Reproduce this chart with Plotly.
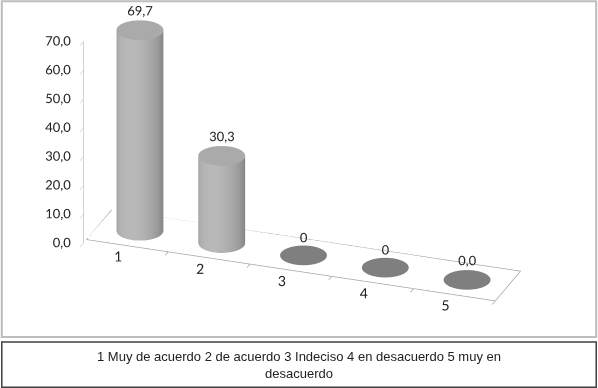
import numpy as np
import plotly.graph_objects as go

categories = [1, 2, 3, 4, 5]
values = [69.7, 30.3, 0.0, 0.0, 0.0]
value_labels = ["69,7", "30,3", "0", "0", "0,0"]
z_ticks = [0, 10, 20, 30, 40, 50, 60, 70]
z_tick_labels = ["0,0", "10,0", "20,0", "30,0", "40,0", "50,0", "60,0", "70,0"]
legend_text = "1 Muy de acuerdo 2 de acuerdo 3 Indeciso 4 en desacuerdo 5 muy en<br>desacuerdo"

X_RANGE = [0.5, 5.5]
Y_FLOOR = [0.0, 1.0]
Y_RANGE = [-0.12, 1.0]
Z_RANGE = [0, 70]

ASPECT = dict(x=2.6, y=0.45 * (Y_RANGE[1] - Y_RANGE[0]), z=1.33)
R_X = 0.27
R_Y = R_X * (ASPECT["x"] / 5.0) / (ASPECT["y"] / (Y_RANGE[1] - Y_RANGE[0]))
Y_MID = 0.5
theta0 = np.deg2rad(-95)
theta = np.linspace(0, 2 * np.pi, 72)
flat = dict(ambient=1, diffuse=0, specular=0, fresnel=0, roughness=1)
AXIS_COL = "#a6a6a6"
FONT = dict(family="Lato", size=13, color="#222222")

fig = go.Figure()

# floor outline (axis frame)
fig.add_trace(go.Scatter3d(
    x=[X_RANGE[0], X_RANGE[1], X_RANGE[1], X_RANGE[0], X_RANGE[0]],
    y=[Y_FLOOR[0], Y_FLOOR[0], Y_FLOOR[1], Y_FLOOR[1], Y_FLOOR[0]],
    z=[0] * 5, mode="lines", line=dict(color=AXIS_COL, width=1.5),
    hoverinfo="skip", showlegend=False))
# category boundary ticks
bounds = [c + 0.5 for c in categories]
tx, ty, tz = [], [], []
for b in bounds:
    tx += [b, b, None]
    ty += [Y_FLOOR[0], Y_RANGE[0], None]
    tz += [0, 0, None]
fig.add_trace(go.Scatter3d(x=tx, y=ty, z=tz, mode="lines",
                           line=dict(color=AXIS_COL, width=1.5),
                           hoverinfo="skip", showlegend=False))

for c, v in zip(categories, values):
    TH, ZZ = np.meshgrid(theta, np.array([0.0, v]))
    if v > 0:
        shade = np.clip(np.cos(TH - theta0), -1, 1)
        fig.add_trace(go.Surface(
            x=c + R_X * np.cos(TH), y=Y_MID + R_Y * np.sin(TH), z=ZZ,
            surfacecolor=shade, cmin=-1, cmax=1,
            colorscale=[[0, "#6f6f6f"], [0.5, "#8d8d8d"], [1, "#b8b8b8"]],
            showscale=False, lighting=flat, hoverinfo="skip"))
    TH2, RR = np.meshgrid(theta, np.array([0.0, 1.0]))
    cap_col = "#aaaaaa" if v > 0 else "#7f7f7f"
    fig.add_trace(go.Surface(
        x=c + R_X * RR * np.cos(TH2), y=Y_MID + R_Y * RR * np.sin(TH2),
        z=np.full_like(RR, v),
        surfacecolor=np.zeros_like(RR), cmin=0, cmax=1,
        colorscale=[[0, cap_col], [1, cap_col]],
        showscale=False, lighting=flat, hoverinfo="skip"))

# data labels
fig.add_trace(go.Scatter3d(
    x=categories, y=[Y_MID] * 5, z=values,
    mode="text", text=value_labels, textposition="top center",
    textfont=FONT, hoverinfo="skip", showlegend=False))

# value-axis tick labels aligned with the axis ticks
fig.add_trace(go.Scatter3d(
    x=[X_RANGE[0]] * len(z_ticks), y=[Y_RANGE[0]] * len(z_ticks), z=z_ticks,
    mode="text", text=[t + "\u00a0\u00a0" for t in z_tick_labels],
    textposition="middle left", textfont=FONT,
    hoverinfo="skip", showlegend=False))

axis_common = dict(showbackground=False, showgrid=False, zeroline=False,
                   showspikes=False, linecolor=AXIS_COL,
                   linewidth=1, title=dict(text=""))

fig.update_layout(
    width=598, height=388,
    margin=dict(l=0, r=0, t=0, b=0),
    paper_bgcolor="white",
    showlegend=False,
    scene=dict(
        domain=dict(x=[0.035, 0.975], y=[0.14, 1.0]),
        aspectmode="manual",
        aspectratio=ASPECT,
        xaxis=dict(axis_common, range=X_RANGE, tickvals=categories,
                   ticktext=[str(c) for c in categories], ticks="",
                   tickangle=0, showline=False, tickfont=FONT),
        yaxis=dict(axis_common, range=Y_RANGE, showticklabels=False, ticks="",
                   showline=False),
        zaxis=dict(axis_common, range=Z_RANGE, tickvals=z_ticks,
                   showticklabels=False, ticks="outside", ticklen=4,
                   showline=True, tickcolor=AXIS_COL),
        camera=dict(eye=dict(x=0.4, y=-1.12, z=0.48), up=dict(x=0, y=0, z=1),
                    center=dict(x=0, y=0, z=-0.07),
                    projection=dict(type="orthographic")),
    ),
    shapes=[
        dict(type="rect", xref="paper", yref="paper", x0=0.003, x1=0.997,
             y0=1 - 337 / 388, y1=0.997, line=dict(color="#bdbdbd", width=2)),
        dict(type="rect", xref="paper", yref="paper", x0=0.003, x1=0.997,
             y0=0.002, y1=1 - 342 / 388, line=dict(color="#404040", width=1.5)),
    ],
    annotations=[dict(text=legend_text, xref="paper", yref="paper", x=0.5,
                      y=(1 - 342 / 388) / 2, yanchor="middle", showarrow=False,
                      font=dict(family="Liberation Sans", size=13, color="#222222"))],
)

fig.write_html("out.html")
